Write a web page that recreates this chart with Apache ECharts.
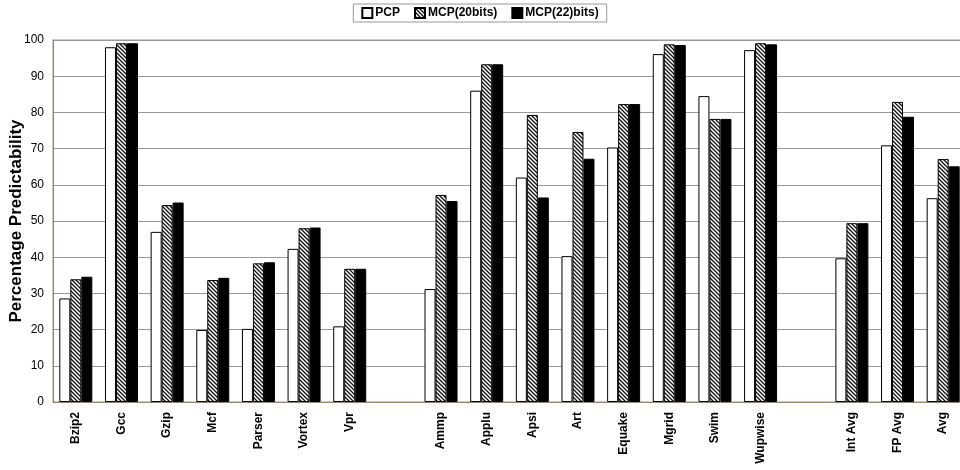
<!DOCTYPE html>
<html>
<head>
<meta charset="utf-8">
<script src="https://cdn.jsdelivr.net/npm/echarts@6/dist/echarts.min.js"></script>
<style>
  html, body { margin: 0; padding: 0; background: #fff; }
  #chart { width: 960px; height: 470px; }
</style>
</head>
<body>
<div id="chart"></div>
<script>
// Benchmarks (blank entries separate integer, floating-point and average groups)
const categories = ['Bzip2', 'Gcc', 'Gzip', 'Mcf', 'Parser', 'Vortex', 'Vpr', '',
  'Ammp', 'Applu', 'Apsi', 'Art', 'Equake', 'Mgrid', 'Swim', 'Wupwise', ' ',
  'Int Avg', 'FP Avg', 'Avg'];

const pcp = [28.6, 98.0, 47.0, 19.9, 20.2, 42.3, 20.9, null,
  31.2, 86.0, 62.0, 40.3, 70.3, 96.1, 84.5, 97.2, null,
  39.7, 70.9, 56.3];

const mcp20 = [33.9, 99.1, 54.4, 33.7, 38.3, 48.0, 36.8, null,
  57.2, 93.3, 79.3, 74.6, 82.3, 98.8, 78.2, 99.1, null,
  49.4, 82.9, 67.1];

const mcp22 = [34.6, 99.1, 55.1, 34.3, 38.6, 48.2, 36.8, null,
  55.5, 93.3, 56.5, 67.2, 82.3, 98.6, 78.2, 98.8, null,
  49.4, 78.8, 65.1];

const yTicks = { min: 0, max: 100, interval: 10 };

// Diagonal hatch fill for the 20-bit series
function hatch() {
  const c = document.createElement('canvas');
  c.width = 4; c.height = 4;
  const g = c.getContext('2d');
  g.fillStyle = '#fff';
  g.fillRect(0, 0, 4, 4);
  g.strokeStyle = '#111';
  g.lineWidth = 1.3;
  g.beginPath();
  g.moveTo(-1, -1); g.lineTo(5, 5);
  g.moveTo(-1, 3); g.lineTo(1, 5);
  g.moveTo(3, -1); g.lineTo(5, 1);
  g.stroke();
  return { image: c, repeat: 'repeat' };
}

const font = 'Liberation Sans, Arial, sans-serif';
const chart = echarts.init(document.getElementById('chart'));

const barBase = {
  type: 'bar',
  barWidth: 11,
  barGap: '0%',
  animation: false
};

chart.setOption({
  backgroundColor: '#fff',
  textStyle: { fontFamily: font },
  legend: {
    top: 4,
    left: 'center',
    icon: 'rect',
    itemWidth: 10,
    itemHeight: 10,
    itemGap: 14,
    padding: [3, 8, 3, 8],
    borderColor: '#999',
    borderWidth: 1,
    textStyle: { fontFamily: font, fontWeight: 'bold', fontSize: 12, color: '#000', padding: [0, 0, 0, -2] },
    data: ['PCP', 'MCP(20bits)', 'MCP(22)bits)']
  },
  grid: {
    left: 53,
    top: 40,
    width: 913,
    height: 362,
    outerBoundsMode: 'none',
    containLabel: false,
    show: true,
    borderColor: '#a39d80',
    borderWidth: 1,
    backgroundColor: 'transparent'
  },
  xAxis: {
    type: 'category',
    data: categories,
    axisLine: { show: true, lineStyle: { color: '#8f8a6e', width: 1 } },
    axisTick: { show: false },
    axisLabel: {
      interval: 0,
      rotate: 90,
      margin: 10,
      fontFamily: font,
      fontWeight: 'bold',
      fontSize: 12,
      color: '#000'
    }
  },
  yAxis: {
    type: 'value',
    min: yTicks.min,
    max: yTicks.max,
    interval: yTicks.interval,
    name: 'Percentage Predictability',
    nameLocation: 'middle',
    nameGap: 28,
    nameMoveOverlap: false,
    nameTextStyle: { fontFamily: font, fontWeight: 'bold', fontSize: 17, color: '#000' },
    axisLine: { show: true, lineStyle: { color: '#8f8a6e', width: 1 } },
    axisTick: { show: false },
    axisLabel: { fontFamily: font, fontSize: 12, color: '#000', margin: 9 },
    splitLine: { show: true, lineStyle: { color: '#9a9a9a', width: 1 } }
  },
  series: [
    Object.assign({}, barBase, {
      name: 'PCP',
      data: pcp,
      itemStyle: { color: '#fff', borderColor: '#000', borderWidth: 1 }
    }),
    Object.assign({}, barBase, {
      name: 'MCP(20bits)',
      data: mcp20,
      itemStyle: { color: hatch(), borderColor: '#000', borderWidth: 1 }
    }),
    Object.assign({}, barBase, {
      name: 'MCP(22)bits)',
      data: mcp22,
      itemStyle: { color: '#000', borderColor: '#000', borderWidth: 1 }
    })
  ]
});
</script>
</body>
</html>
